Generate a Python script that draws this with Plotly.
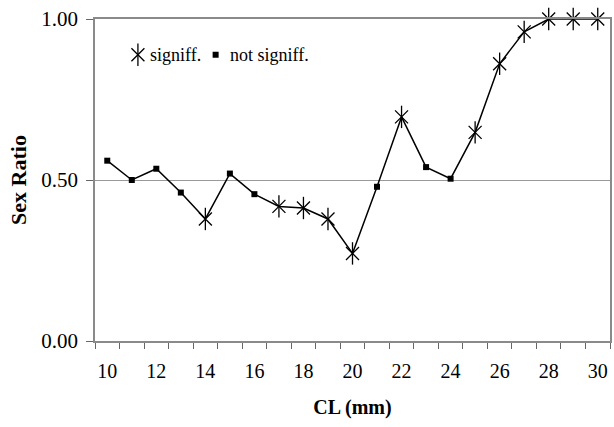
import plotly.graph_objects as go

cl = list(range(10, 31))
ratio = [0.56, 0.50, 0.535, 0.461, 0.379, 0.52, 0.456, 0.418, 0.413, 0.379,
         0.272, 0.479, 0.696, 0.54, 0.504, 0.648, 0.861, 0.96, 1.0, 1.0, 1.0]
signif = [False, False, False, False, True, False, False, True, True, True,
          True, False, True, False, False, True, True, True, True, True, True]

sx = [x for x, s in zip(cl, signif) if s]
sy = [y for y, s in zip(ratio, signif) if s]
nx = [x for x, s in zip(cl, signif) if not s]
ny = [y for y, s in zip(ratio, signif) if not s]

xtick_vals = list(range(10, 31, 2))
ytick_vals = [0.0, 0.5, 1.0]
ytick_text = ["0.00", "0.50", "1.00"]
legend_labels = ["signiff.", "not signiff."]

serif = "Times New Roman"

fig = go.Figure()
fig.add_trace(go.Scatter(x=cl, y=ratio, mode="lines",
                         line=dict(color="black", width=1.5),
                         showlegend=False, cliponaxis=False))
fig.add_trace(go.Scatter(x=sx, y=sy, mode="markers", name="",
                         marker=dict(symbol="x-thin-open", size=13, color="black",
                                     line=dict(color="black", width=1.3)),
                         cliponaxis=False, legend="legend"))
fig.add_trace(go.Scatter(x=sx, y=sy, mode="markers", name="",
                         marker=dict(symbol="line-ns-open", size=16, color="black",
                                     line=dict(color="black", width=1.3)),
                         cliponaxis=False, legend="legend3"))
fig.add_trace(go.Scatter(x=nx, y=ny, mode="markers", name="",
                         marker=dict(symbol="square", size=6, color="black"),
                         cliponaxis=False, legend="legend2"))

leg_common = dict(orientation="h", y=0.888, xanchor="left", yanchor="middle",
                  bgcolor="rgba(0,0,0,0)", font=dict(family=serif, size=18, color="black"),
                  itemwidth=30)

fig.update_layout(
    width=614, height=427,
    margin=dict(l=95, r=2, t=19, b=86),
    paper_bgcolor="white", plot_bgcolor="white",
    font=dict(family=serif, size=20, color="black"),
    showlegend=True,
    legend=dict(x=0.0445, **leg_common),
    legend3=dict(x=0.0445, **leg_common),
    legend2=dict(x=0.1954, **leg_common),
    xaxis=dict(range=[9.5, 30.5], tickmode="array", tickvals=xtick_vals,
               ticks="", ticklabelstandoff=11, showgrid=False, zeroline=False,
               tickfont=dict(family=serif, size=20, color="black"),
               showline=True, mirror=True, linecolor="#8a8a8a", linewidth=1.5,
               minor=dict(tickmode="linear", tick0=9.5, dtick=1, ticks="outside",
                          ticklen=6, tickcolor="#666", showgrid=False),
               title=dict(text="<b>CL (mm)</b>", font=dict(family=serif, size=20),
                          standoff=19)),
    yaxis=dict(range=[0, 1], tickmode="array", tickvals=ytick_vals, ticktext=ytick_text,
               ticks="outside", ticklen=7, tickcolor="#666", ticklabelstandoff=4,
               tickfont=dict(family=serif, size=21, color="black"),
               showgrid=True, gridcolor="#999", gridwidth=1, zeroline=False,
               showline=True, mirror=True, linecolor="#8a8a8a", linewidth=1.5,
               title=dict(text="<b>Sex Ratio</b>", font=dict(family=serif, size=22),
                          standoff=9)),
    annotations=[
        dict(text=legend_labels[0], xref="paper", yref="paper", x=0.1025, y=0.888,
             xanchor="left", yanchor="middle", showarrow=False,
             font=dict(family=serif, size=18, color="black")),
        dict(text=legend_labels[1], xref="paper", yref="paper", x=0.2573, y=0.888,
             xanchor="left", yanchor="middle", showarrow=False,
             font=dict(family=serif, size=18, color="black")),
    ],
)

fig.write_html("out.html")
